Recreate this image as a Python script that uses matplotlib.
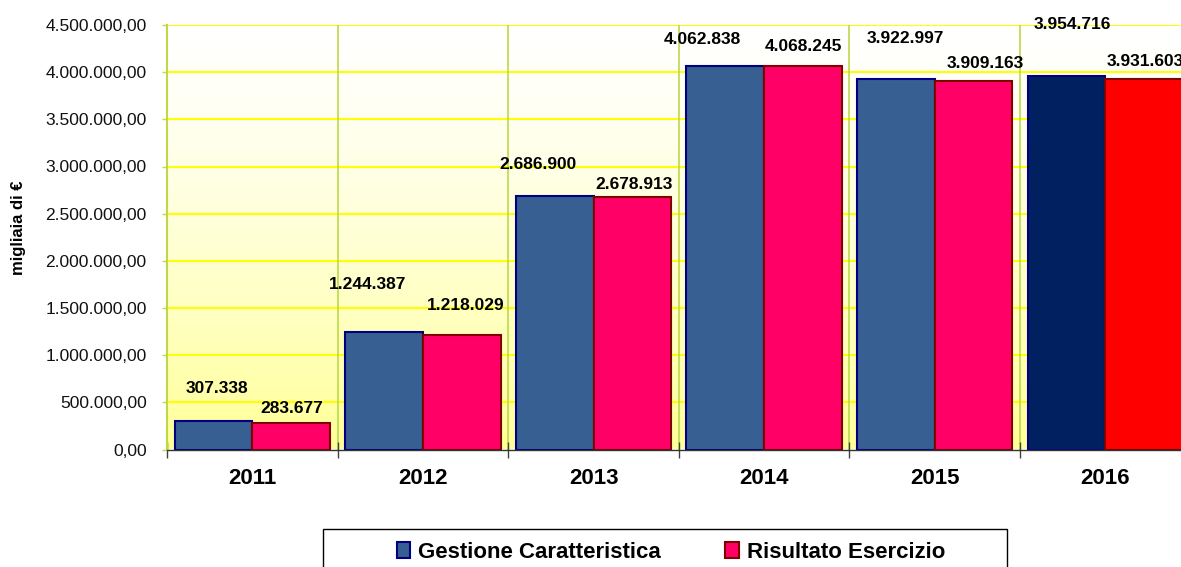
import numpy as np
import matplotlib
matplotlib.use("Agg")
import matplotlib.pyplot as plt
from matplotlib.patches import Patch, Rectangle
from matplotlib.ticker import FuncFormatter, MultipleLocator

plt.rcParams['font.family'] = ['Liberation Sans', 'DejaVu Sans']

# data (migliaia di euro)
anni = ['2011', '2012', '2013', '2014', '2015', '2016']
gestione = [307338, 1244387, 2686900, 4062838, 3922997, 3954716]
risultato = [283677, 1218029, 2678913, 4068245, 3909163, 3931603]
serie = ['Gestione Caratteristica', 'Risultato Esercizio']

# label offsets in pixels (dx, dy above bar top to baseline), as placed in the original
off_gest = [(3, 28), (-17, 43), (-17, 27), (-23, 22), (9, 36), (6, 47)]
off_ris = [(1, 10), (4, 25), (2, 8), (1, 15), (12, 13), (1, 13)]

blu, blu_edge = '#385f91', '#000080'
ros, ros_edge = '#ff0066', '#800000'
blu_last, ros_last = '#002060', '#ff0000'

fig = plt.figure(figsize=(11.81, 5.67), dpi=100)
ax = fig.add_axes([167/1181, 1 - 449.5/567, 1023.6/1181, (449.5 - 25)/567])

x = np.arange(len(anni))
w = 0.455

# gradient background of plot area (white at top, pale yellow at bottom)
grad = np.linspace(0, 1, 256) ** 1.3
top = np.array([1.0, 1.0, 1.0])
bot = np.array([1.0, 1.0, 0.6])
img = top + (bot - top) * grad[:, None, None] * np.ones((1, 2, 1))
ax.imshow(img[::-1], extent=(-0.5, len(anni) - 0.5, 0, 4.5e6), aspect='auto',
          origin='lower', zorder=0)

cg = [blu] * (len(anni) - 1) + [blu_last]
cr = [ros] * (len(anni) - 1) + [ros_last]
b1 = ax.bar(x - w/2, gestione, w, color=cg, edgecolor=blu_edge, linewidth=1.5, zorder=3)
b2 = ax.bar(x + w/2, risultato, w, color=cr, edgecolor=ros_edge, linewidth=1.5, zorder=3)

def fmt_it(v):
    return f"{v:,.0f}".replace(',', '.')

for i in range(len(anni)):
    ax.annotate(fmt_it(gestione[i]), (x[i] - w/2, gestione[i]), xytext=off_gest[i],
                textcoords='offset pixels', ha='center', va='baseline',
                fontsize=12.5, fontweight='bold', zorder=5, annotation_clip=False)
    ax.annotate(fmt_it(risultato[i]), (x[i] + w/2, risultato[i]), xytext=off_ris[i],
                textcoords='offset pixels', ha='center', va='baseline',
                fontsize=12.5, fontweight='bold', zorder=5, annotation_clip=False)

ax.set_xlim(-0.5, len(anni) - 0.5)
ax.set_ylim(0, 4.5e6)

# grid
ax.yaxis.set_major_locator(MultipleLocator(500000))
for v in np.arange(500000, 4.5e6 + 1, 500000):
    ax.axhline(v, color='#ffff00', lw=1.5, zorder=1)
for b in np.arange(0.5, len(anni) - 0.5, 1):
    ax.axvline(b, color='#bcd94a', lw=1.2, zorder=1)

ax.yaxis.set_major_formatter(FuncFormatter(
    lambda v, p: f"{v:,.2f}".replace(',', 'X').replace('.', ',').replace('X', '.')))
ax.tick_params(axis='y', direction='out', length=3.6, width=1, color='#bcd94a',
               pad=11, labelsize=12.5, labelcolor='#111111')

ax.set_xticks(x)
ax.set_xticklabels(anni, fontsize=16, fontweight='bold')
ax.set_xticks(np.arange(-0.5, len(anni) + 0.5, 1), minor=True)
ax.tick_params(axis='x', which='major', length=0, pad=13)
ax.tick_params(axis='x', which='minor', direction='inout', length=11, width=1, color='#404040')

for s in ['top', 'right']:
    ax.spines[s].set_visible(False)
ax.spines['left'].set_color('#bcd94a')
ax.spines['left'].set_linewidth(1.5)
ax.spines['bottom'].set_color('#333333')
ax.spines['bottom'].set_linewidth(1)
ax.spines['bottom'].set_zorder(4)

fig.text(18.5/1181, 1 - 228/567, 'migliaia di €', rotation=90, ha='center', va='center',
         fontsize=12, fontweight='bold')

# legend
fig.patches.append(Rectangle((323/1181, 1 - 575/567), (1007 - 323)/1181, 46/567,
                             transform=fig.transFigure, fill=False, edgecolor='#000000',
                             lw=1, zorder=1))
handles = [Patch(facecolor=blu, edgecolor=blu_edge, linewidth=1.5),
           Patch(facecolor=ros, edgecolor=ros_edge, linewidth=1.5)]
fig.legend(handles, serie, loc='center left', bbox_to_anchor=(386/1181, 1 - 552/567),
           ncol=2, frameon=False, borderpad=0, prop={'size': 16, 'weight': 'bold'},
           handlelength=0.6, handleheight=0.75, handletextpad=0.35, columnspacing=2.9)

fig.savefig('out.png', dpi=100)
